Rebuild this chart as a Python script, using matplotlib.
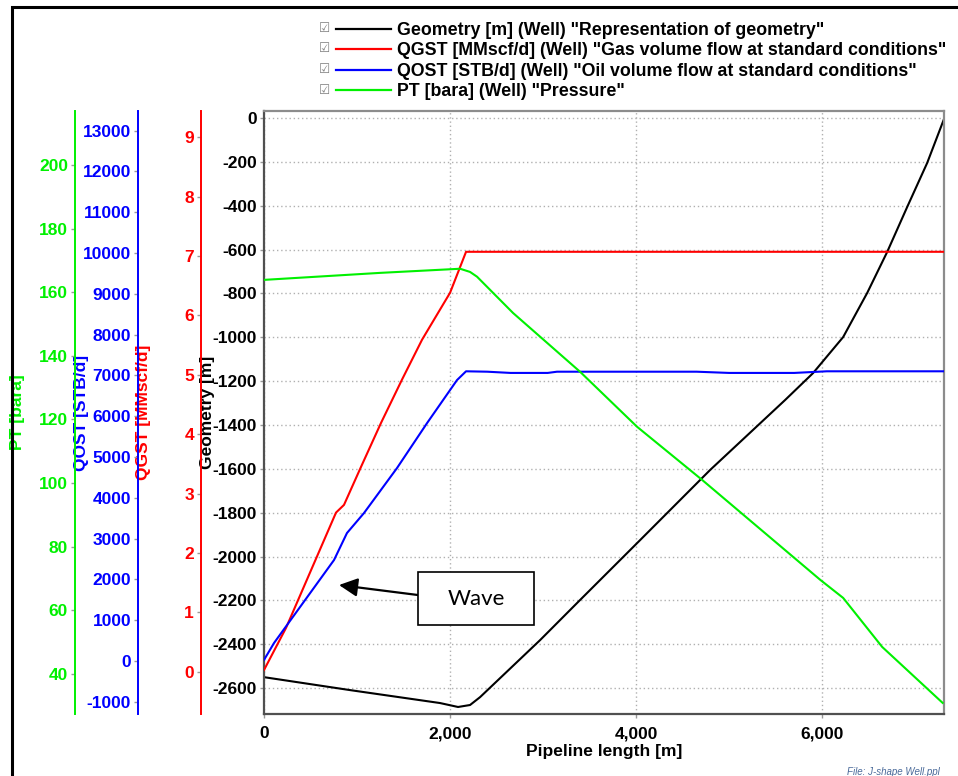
import matplotlib.pyplot as plt
from matplotlib.lines import Line2D
from matplotlib.patches import Rectangle
from matplotlib.ticker import FuncFormatter, MultipleLocator

plt.rcParams['font.family'] = ['Liberation Sans', 'DejaVu Sans']
plt.rcParams['font.weight'] = 'bold'
plt.rcParams['axes.labelweight'] = 'bold'
plt.rcParams['axes.unicode_minus'] = False

# values
geom_x = [0, 925, 1892, 2086, 2215, 2323, 2968, 3398, 4043, 4796, 5602, 5903, 6226, 6484, 6699, 6914, 7129, 7305]
geom_y = [-2550, -2609, -2668, -2686, -2677, -2641, -2381, -2198, -1925, -1605, -1286, -1163, -999, -798, -611, -406, -205, -10]

gas_x = [0, 237, 774, 860, 1043, 1258, 1484, 1699, 2000, 2172, 7305]
gas_y = [0.03, 0.74, 2.68, 2.81, 3.45, 4.19, 4.92, 5.59, 6.38, 7.07, 7.07]

oil_x = [0, 108, 753, 892, 1075, 1430, 1753, 2075, 2172, 2400, 2650, 3050, 3150, 4650, 5000, 5700, 6050, 7305]
oil_y = [25, 441, 2475, 3136, 3626, 4729, 5831, 6885, 7100, 7090, 7060, 7060, 7090, 7090, 7060, 7060, 7100, 7100]

pt_x = [0, 1247, 2108, 2215, 2290, 2677, 3398, 4011, 4710, 5979, 6226, 6645, 7295]
pt_y = [163.9, 166.1, 167.4, 166.4, 164.9, 153.5, 135.0, 117.7, 101.0, 69.6, 63.9, 48.5, 30.9]

labels = ['Geometry [m] (Well) "Representation of geometry"',
          'QGST [MMscf/d] (Well) "Gas volume flow at standard conditions"',
          'QOST [STB/d] (Well) "Oil volume flow at standard conditions"',
          'PT [bara] (Well) "Pressure"']

BLACK = '#000000'
RED = '#ff0000'
BLUE = '#0000ff'
GREEN = '#00f000'
FS = 12.5

fig = plt.figure(figsize=(9.58, 7.76), dpi=100)
ax = fig.add_axes([264 / 958, 1 - 714 / 776, 680 / 958, 603 / 776])
ax_gas = ax.twinx()
ax_oil = ax.twinx()
ax_pt = ax.twinx()

ax.plot(geom_x, geom_y, color=BLACK, lw=1.5)
ax_gas.plot(gas_x, gas_y, color=RED, lw=1.5)
ax_oil.plot(oil_x, oil_y, color=BLUE, lw=1.5)
ax_pt.plot(pt_x, pt_y, color=GREEN, lw=1.5)

ax.set_xlim(0, 7310)
ax.set_ylim(-2718, 32)
ax_gas.set_ylim(-0.71, 9.44)
ax_oil.set_ylim(-1300, 13480)
ax_pt.set_ylim(27.4, 217)

ax.xaxis.set_major_locator(MultipleLocator(2000))
ax.xaxis.set_major_formatter(FuncFormatter(lambda v, p: f'{v:,.0f}'))
ax.yaxis.set_major_locator(MultipleLocator(200))
ax_gas.yaxis.set_major_locator(MultipleLocator(1))
ax_oil.yaxis.set_major_locator(MultipleLocator(1000))
ax_pt.yaxis.set_major_locator(MultipleLocator(20))

ax.grid(True, linestyle=(0, (1, 2)), color='#b0b0b0', lw=1)
ax.tick_params(axis='both', length=3, width=1, color='#999999', labelsize=FS, pad=2)
ax.tick_params(axis='x', pad=6)
for s in ('left', 'bottom'):
    ax.spines[s].set_color('#505050')
    ax.spines[s].set_linewidth(1.6)
for s in ('top', 'right'):
    ax.spines[s].set_color('#8c8c8c')
    ax.spines[s].set_linewidth(1.6)

for a, pos, col in [(ax_gas, -0.0926, RED), (ax_oil, -0.1853, BLUE), (ax_pt, -0.2779, GREEN)]:
    for s in ('right', 'top', 'bottom'):
        a.spines[s].set_visible(False)
    a.spines['left'].set_visible(True)
    a.spines['left'].set_position(('axes', pos))
    a.spines['left'].set_color(col)
    a.spines['left'].set_linewidth(1.4)
    a.yaxis.set_ticks_position('left')
    a.yaxis.set_label_position('left')
    a.tick_params(axis='y', length=3, width=1, color='#999999', labelsize=FS, pad=2, labelcolor=col)

# axis titles
for xf, txt, col in [(-0.3618, 'PT [bara]', GREEN), (-0.2691, 'QOST [STB/d]', BLUE),
                     (-0.1765, 'QGST [MMscf/d]', RED), (-0.0838, 'Geometry [m]', BLACK)]:
    ax.text(xf, 0.5, txt, transform=ax.transAxes, rotation=90, ha='center', va='center',
            fontsize=FS, color=col)
ax.set_xlabel('Pipeline length [m]', fontsize=FS, fontweight='bold', labelpad=2)

# legend
handles = [Line2D([], [], color=c, lw=1.6) for c in (BLACK, RED, BLUE, GREEN)]
fig.legend(handles, labels, loc='upper left', bbox_to_anchor=(336 / 958, 1 - 22 / 776),
           frameon=False, fontsize=12.8, handlelength=3.1, handletextpad=0.35,
           labelspacing=0.19, borderpad=0, borderaxespad=0)
for yy in (28, 48.5, 69, 90):
    fig.text(325 / 958, 1 - yy / 776, '\u2611', family='DejaVu Sans', fontsize=9,
             color='#808080', ha='center', va='center', fontweight='normal')

# "Wave" callout
ax.add_patch(Rectangle((0.2265, 0.1476), 0.1705, 0.0879, transform=ax.transAxes,
                       facecolor='white', edgecolor='black', lw=1.2, zorder=5))
ax.text(0.3118, 0.1915, 'Wave', transform=ax.transAxes, ha='center', va='center',
        family='Lato', fontweight='normal', fontsize=16, zorder=6)
ax.annotate('', xy=(0.1103, 0.2139), xytext=(0.2265, 0.1973), xycoords='axes fraction',
            textcoords='axes fraction',
            arrowprops=dict(arrowstyle='-|>,head_length=0.7,head_width=0.35', color='black',
                            lw=1.6, mutation_scale=16, shrinkA=0, shrinkB=0))

fig.text(940 / 958, 1 - 772 / 776, 'File: J-shape Well.ppl', ha='right', va='center',
         fontsize=7, style='italic', fontweight='normal', color='#4a6a9a')

fig.add_artist(Rectangle((12 / 958, -0.1), 1.2, 1.1 - 7 / 776, transform=fig.transFigure,
                         fill=False, edgecolor='black', lw=2.2))

fig.savefig('out.png', dpi=100)
